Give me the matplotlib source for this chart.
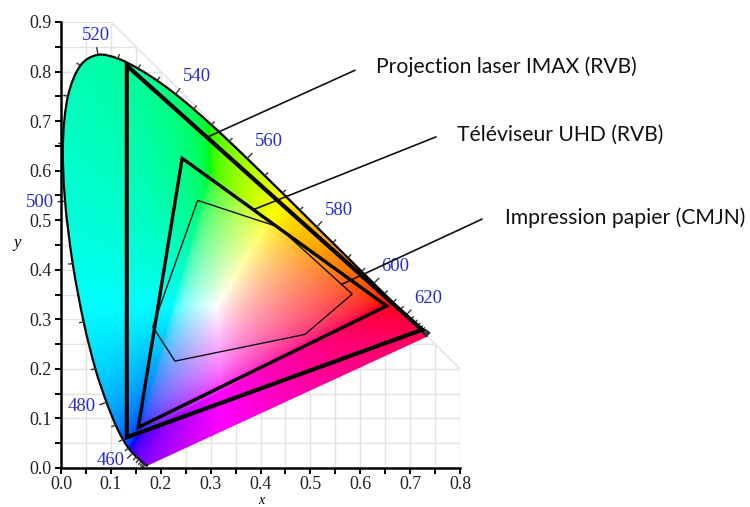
import numpy as np
import matplotlib
matplotlib.use("Agg")
import matplotlib.pyplot as plt
from matplotlib.path import Path
from matplotlib.patches import PathPatch

# CIE 1931 2-degree spectral locus, 5 nm steps
WAVELENGTHS = list(range(380, 705, 5))
LOCUS_X = [0.1741, 0.1740, 0.1738, 0.1736, 0.1733, 0.1730, 0.1726, 0.1721, 0.1714, 0.1703,
           0.1689, 0.1669, 0.1644, 0.1611, 0.1566, 0.1510, 0.1440, 0.1355, 0.1241, 0.1096,
           0.0913, 0.0687, 0.0454, 0.0235, 0.0082, 0.0039, 0.0139, 0.0389, 0.0743, 0.1142,
           0.1547, 0.1929, 0.2296, 0.2658, 0.3016, 0.3373, 0.3731, 0.4087, 0.4441, 0.4788,
           0.5125, 0.5448, 0.5752, 0.6029, 0.6270, 0.6482, 0.6658, 0.6801, 0.6915, 0.7006,
           0.7079, 0.7140, 0.7190, 0.7230, 0.7260, 0.7283, 0.7300, 0.7311, 0.7320, 0.7327,
           0.7334, 0.7340, 0.7344, 0.7346, 0.7347]
LOCUS_Y = [0.0050, 0.0050, 0.0049, 0.0049, 0.0048, 0.0048, 0.0048, 0.0048, 0.0051, 0.0058,
           0.0069, 0.0086, 0.0109, 0.0138, 0.0177, 0.0227, 0.0297, 0.0399, 0.0578, 0.0868,
           0.1327, 0.2007, 0.2950, 0.4127, 0.5384, 0.6548, 0.7502, 0.8120, 0.8338, 0.8262,
           0.8059, 0.7816, 0.7543, 0.7243, 0.6923, 0.6589, 0.6245, 0.5896, 0.5547, 0.5202,
           0.4866, 0.4544, 0.4242, 0.3965, 0.3725, 0.3514, 0.3340, 0.3197, 0.3083, 0.2993,
           0.2920, 0.2859, 0.2809, 0.2770, 0.2740, 0.2717, 0.2700, 0.2689, 0.2680, 0.2673,
           0.2666, 0.2660, 0.2656, 0.2654, 0.2653]
LABELED_NM = [460, 480, 500, 520, 540, 560, 580, 600, 620]
TICK_NM = list(range(430, 685, 5))

# gamuts (x, y of vertices)
IMAX_X = [0.132, 0.132, 0.724]
IMAX_Y = [0.812, 0.062, 0.279]
UHD_X = [0.243, 0.155, 0.653]
UHD_Y = [0.625, 0.082, 0.327]
CMJN_X = [0.274, 0.4355, 0.584, 0.489, 0.2285, 0.184]
CMJN_Y = [0.540, 0.4865, 0.351, 0.2695, 0.2157, 0.285]

# annotations: text, leader start, leader end, text anchor
LABELS = ["Projection laser IMAX (RVB)", "Téléviseur UHD (RVB)", "Impression papier (CMJN)"]
LEADER_START = [(0.294, 0.668), (0.385, 0.521), (0.5625, 0.3705)]
LEADER_END = [(0.589, 0.8024), (0.7515, 0.668), (0.8437, 0.502)]
TEXT_POS = [(0.631, 0.798), (0.793, 0.661), (0.890, 0.4933)]

M_XYZ_RGB = np.array([[3.2406, -1.5372, -0.4986],
                      [-0.9689, 1.8758, 0.0415],
                      [0.0557, -0.2040, 1.0570]])


def chromaticity_image(nx=640, ny=720):
    xs = np.linspace(0, 0.8, nx)
    ys = np.linspace(0.001, 0.9, ny)
    X, Y = np.meshgrid(xs, ys)
    XYZ = np.stack([X / Y, np.ones_like(X), (1 - X - Y) / Y], axis=-1)
    rgb = XYZ @ M_XYZ_RGB.T
    # out-of-gamut colours: add white until no channel is negative
    rgb = rgb - np.minimum(rgb.min(axis=-1, keepdims=True), 0)
    rgb = rgb / np.maximum(rgb.max(axis=-1, keepdims=True), 1e-9)
    rgb = np.where(rgb <= 0.0031308, 12.92 * rgb, 1.055 * np.power(rgb, 1 / 2.4) - 0.055)
    return np.clip(rgb, 0, 1)


def smooth_path(xs, ys):
    """Catmull-Rom through the locus points as cubic Bezier segments, closed by the purple line."""
    pts = np.column_stack([xs, ys])
    n = len(pts)
    verts = [pts[0]]
    codes = [Path.MOVETO]
    for i in range(n - 1):
        p0 = pts[max(i - 1, 0)]
        p1, p2 = pts[i], pts[i + 1]
        p3 = pts[min(i + 2, n - 1)]
        verts += [p1 + (p2 - p0) / 6, p2 - (p3 - p1) / 6, p2]
        codes += [Path.CURVE4] * 3
    open_path = Path(np.array(verts), codes)
    verts_c = verts + [pts[0], pts[0]]
    codes_c = codes + [Path.LINETO, Path.CLOSEPOLY]
    return open_path, Path(np.array(verts_c), codes_c)


fig = plt.figure(figsize=(7.5, 5.07), dpi=100)
ax = fig.add_axes([61 / 750, 1 - 468 / 507, 399 / 750, 446 / 507])
ax.set_xlim(0, 0.8)
ax.set_ylim(0, 0.9)

# grid restricted to x + y <= 1
grid_kw = dict(color="#e2e2e2", lw=1.0, zorder=0)
for c in np.arange(0.05, 0.801, 0.05):
    ax.plot([c, c], [0, min(0.9, 1 - c)], **grid_kw)
for c in np.arange(0.05, 0.901, 0.05):
    ax.plot([0, min(0.8, 1 - c)], [c, c], **grid_kw)
ax.plot([0.1, 0.8], [0.9, 0.2], **grid_kw)

# filled horseshoe
lx = np.array(LOCUS_X)
ly = np.array(LOCUS_Y)
curve_path, locus_path = smooth_path(lx, ly)
img = ax.imshow(chromaticity_image(), extent=(0, 0.8, 0.001, 0.9), origin="lower",
                interpolation="bilinear", zorder=1, aspect="auto")
clip = PathPatch(locus_path, fc="none", ec="none", transform=ax.transData)
ax.add_patch(clip)
img.set_clip_path(clip)
ax.add_patch(PathPatch(curve_path, fc="none", ec="black", lw=1.6, zorder=3))

# wavelength ticks and labels
to_px = ax.transData
inv = ax.transData.inverted()
for nm in TICK_NM:
    i = WAVELENGTHS.index(nm)
    p = to_px.transform((lx[i], ly[i]))
    a = to_px.transform((lx[i - 1], ly[i - 1]))
    b = to_px.transform((lx[i + 1], ly[i + 1]))
    t = b - a
    n = np.array([-t[1], t[0]]) / np.hypot(*t)   # outward normal (display coords, y up)
    length = 7 if nm in LABELED_NM else 4
    q = inv.transform(p + n * length)
    ax.plot([lx[i], q[0]], [ly[i], q[1]], color="#333333", lw=1.0, zorder=3, clip_on=False)
    if nm in LABELED_NM:
        ha = "left" if n[0] > 0.5 else ("right" if n[0] < -0.5 else "center")
        va = "bottom" if n[1] > 0.5 else ("top" if n[1] < -0.75 else "center")
        ax.annotate(str(nm), (lx[i], ly[i]), xytext=(n[0] * 11.4, n[1] * 11.4),
                    textcoords="offset pixels", ha=ha, va=va, color="#2a2ad0",
                    fontsize=13.5, family="Liberation Serif", zorder=4, annotation_clip=False)

# gamut outlines
ax.fill(IMAX_X, IMAX_Y, fc="none", ec="black", lw=3.0, zorder=5, joinstyle="miter")
ax.fill(UHD_X, UHD_Y, fc="none", ec="black", lw=2.4, zorder=5, joinstyle="miter")
ax.fill(CMJN_X, CMJN_Y, fc="none", ec="#111111", lw=1.0, zorder=5)

for text, s, e, tp in zip(LABELS, LEADER_START, LEADER_END, TEXT_POS):
    ax.plot([s[0], e[0]], [s[1], e[1]], color="#111111", lw=1.2, zorder=6, clip_on=False)
    ax.text(tp[0], tp[1], text, ha="left", va="baseline", fontsize=15.2, family="Lato",
            color="#111111", clip_on=False)

# axes styling
for side in ["top", "right"]:
    ax.spines[side].set_visible(False)
for side in ["left", "bottom"]:
    ax.spines[side].set_linewidth(1.8)
    ax.spines[side].set_zorder(7)
ax.set_xticks(np.arange(0, 0.81, 0.1))
ax.set_yticks(np.arange(0, 0.91, 0.1))
ax.set_xticks(np.arange(0.05, 0.8, 0.1), minor=True)
ax.set_yticks(np.arange(0.05, 0.9, 0.1), minor=True)
ax.set_xticklabels([f"{v:.1f}" for v in np.arange(0, 0.81, 0.1)])
ax.set_yticklabels([f"{v:.1f}" for v in np.arange(0, 0.91, 0.1)])
ax.tick_params(which="both", direction="out", length=4, width=1.4, color="black")
ax.tick_params(axis="x", pad=2)
ax.tick_params(axis="y", pad=3)
for lab in ax.get_xticklabels() + ax.get_yticklabels():
    lab.set_family("Liberation Serif")
    lab.set_fontsize(13)
    lab.set_color("#222222")

fig.text(261 / 750, 0.0, "x", ha="center", va="bottom", fontsize=10,
         family="Liberation Serif", style="italic")
fig.text(17 / 750, 1 - 243 / 507, "y", ha="center", va="center", fontsize=12,
         family="Liberation Serif", style="italic")

fig.savefig("out.png", dpi=100)
